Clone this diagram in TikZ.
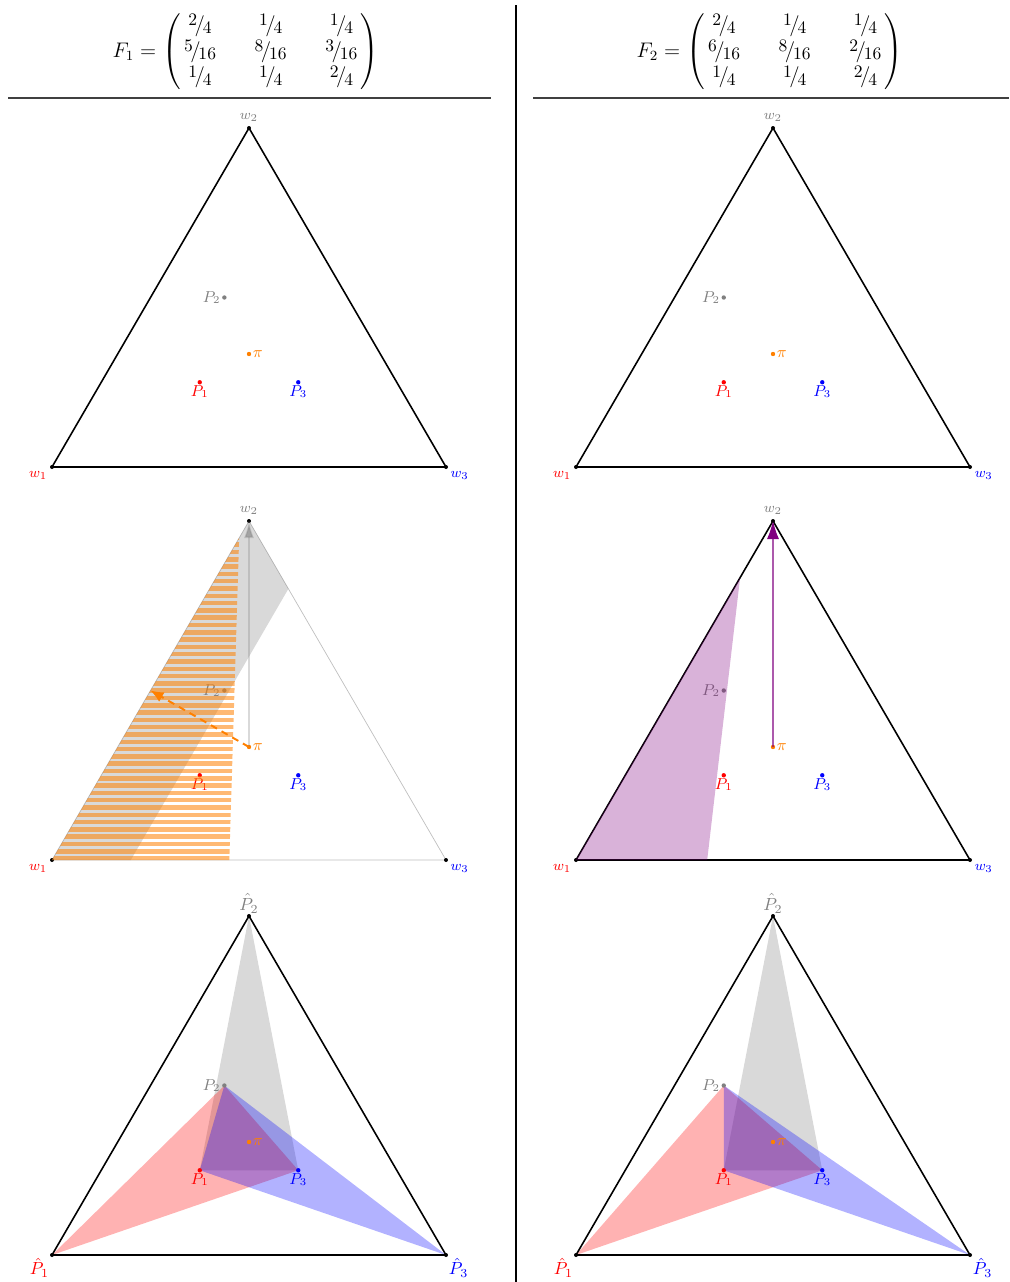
\documentclass[11pt,tikz,border=0pt]{standalone}
\usepackage{amsmath}
\usetikzlibrary{arrows.meta,calc}
\newcommand{\sfr}[2]{\mbox{\raisebox{.6ex}{\small$#1$}\kern-.12em$/$\kern-.1em\raisebox{-.25ex}{\small$#2$}}}
\newcommand{\Fmat}[3]{\setlength{\arraycolsep}{11pt}\renewcommand{\arraystretch}{1.05}%
  $F_{#1} = \begin{pmatrix} \,\sfr24 & \sfr14 & \sfr14\,\\ \,\sfr{#2}{16} & \sfr8{16} & \sfr{#3}{16}\,\\ \,\sfr14 & \sfr14 & \sfr24\, \end{pmatrix}$}
\tikzset{
  header/.style={inner sep=0pt, align=center, font=\large},
  rule/.style={draw=black!75, line width=0.6pt},
  simplex/.style={draw, line width=0.9pt, line join=round},
  faint/.style={draw=black!25, line width=0.4pt},
  lbl/.style={inner sep=2.5pt, font=\scriptsize},
  ptlbl/.style={inner sep=2pt, font=\footnotesize},
  biglbl/.style={inner sep=1.5pt, font=\small},
  region/.style={fill=#1, fill opacity=0.3, draw=none},
  stripe/.style={draw=orange, draw opacity=0.55, line width=2.6pt},
  arrow/.style={-{Latex[length=3.4mm,width=2mm]}, line width=0.9pt}
}

\begin{document}
\begin{tikzpicture}[x=0.02cm,y=-0.02cm]
  \useasboundingbox (0,0) rectangle (1010,1282);

  % headers and rules
  \node[header] (F1) at (246,52) {\Fmat{1}{5}{3}};
  \node[header] (F2) at (770,52) {\Fmat{2}{6}{2}};
  \draw[rule] (8,98) -- (491,98);
  \draw[rule] (533,98) -- (1009,98);
  \draw[line width=0.6pt] (516,5) -- (516,1282);

  % corners and points of every simplex
  \foreach \c/\dx/\pa/\pc in {1/0/5/3, 2/524/6/2}
    \foreach \r/\dy in {1/0, 2/393, 3/788} {
      \coordinate (A\c\r) at (52+\dx,467+\dy);
      \coordinate (B\c\r) at (249+\dx,128+\dy);
      \coordinate (C\c\r) at (446+\dx,467+\dy);
      \coordinate (Pa\c\r) at (barycentric cs:A\c\r=2,B\c\r=1,C\c\r=1);
      \coordinate (Pb\c\r) at (barycentric cs:A\c\r=\pa,B\c\r=8,C\c\r=\pc);
      \coordinate (Pc\c\r) at (barycentric cs:A\c\r=1,B\c\r=1,C\c\r=2);
      \coordinate (Pi\c\r) at (barycentric cs:A\c\r=1,B\c\r=1,C\c\r=1);
    }

  % bottom row: images of the corners
  \foreach \c in {1,2} {
    \fill[region=gray] (B\c3) -- (Pa\c3) -- (Pc\c3) -- cycle;
    \fill[region=red] (A\c3) -- (Pb\c3) -- (Pc\c3) -- cycle;
    \fill[region=blue] (C\c3) -- (Pb\c3) -- (Pa\c3) -- cycle;
  }

  % triangles
  \foreach \c/\r in {1/1, 2/1, 2/2, 1/3, 2/3}
    \draw[simplex] (A\c\r) -- (B\c\r) -- (C\c\r) -- cycle;
  \draw[faint] (A12) -- (B12) -- (C12) -- cycle;

  \foreach \c in {1,2} \foreach \r in {1,2,3} {
    \foreach \v in {A,B,C} \fill (\v\c\r) circle (2);
    \fill[red] (Pa\c\r) circle (2.2);
    \fill[gray] (Pb\c\r) circle (2.2);
    \fill[blue] (Pc\c\r) circle (2.2);
    \fill[orange] (Pi\c\r) circle (2.2);
    \node[ptlbl, red, below, inner sep=1.5pt] (lPa\c\r) at (Pa\c\r) {$P_1$};
    \node[ptlbl, gray, left] (lPb\c\r) at (Pb\c\r) {$P_2$};
    \node[ptlbl, blue, below, inner sep=1.5pt] (lPc\c\r) at (Pc\c\r) {$P_3$};
    \node[ptlbl, orange, right] (lPi\c\r) at (Pi\c\r) {$\pi$};
  }

  % corner labels
  \foreach \c in {1,2} {
    \foreach \r in {1,2} {
      \node[lbl, red, below left] (lA\c\r) at (A\c\r) {$w_1$};
      \node[lbl, gray, above, inner sep=3.5pt] (lB\c\r) at (B\c\r) {$w_2$};
      \node[lbl, blue, below right] (lC\c\r) at (C\c\r) {$w_3$};
    }
    \node[biglbl, red, below left] (lA\c3) at (A\c3) {$\hat P_1$};
    \node[biglbl, gray, above] (lB\c3) at (B\c3) {$\hat P_2$};
    \node[biglbl, blue, below right] (lC\c3) at (C\c3) {$\hat P_3$};
  }

  % middle left
  \fill[region=gray] (A12) -- (B12) -- ($(B12)!0.2!(C12)$) -- ($(A12)!0.2!(C12)$) -- cycle;
  \begin{scope}
    \clip (A12) -- ($(A12)!0.95!(B12)$) -- ($(A12)!0.45!(C12)$) -- cycle;
    \foreach \k in {0,...,47}
      \draw[stripe] (40,858.6-7.3*\k) -- (260,858.6-7.3*\k);
  \end{scope}
  \coordinate (M12) at ($(A12)!0.5!(B12)$);
  \draw[arrow, gray, draw opacity=0.3, fill opacity=0.6] (Pi12) -- (B12);
  \draw[arrow, orange, dash pattern=on 4pt off 3pt, line width=1.1pt,
        -{Latex[length=2.6mm,width=2.2mm]}] (Pi12) -- (M12);

  % middle right
  \fill[region=violet] (A22) -- ($(A22)!0.833!(B22)$) -- ($(A22)!0.333!(C22)$) -- cycle;
  \draw[arrow, violet, line width=0.6pt, -{Latex[length=3.6mm,width=2.4mm]}] (Pi22) -- (B22);
\end{tikzpicture}
\end{document}
